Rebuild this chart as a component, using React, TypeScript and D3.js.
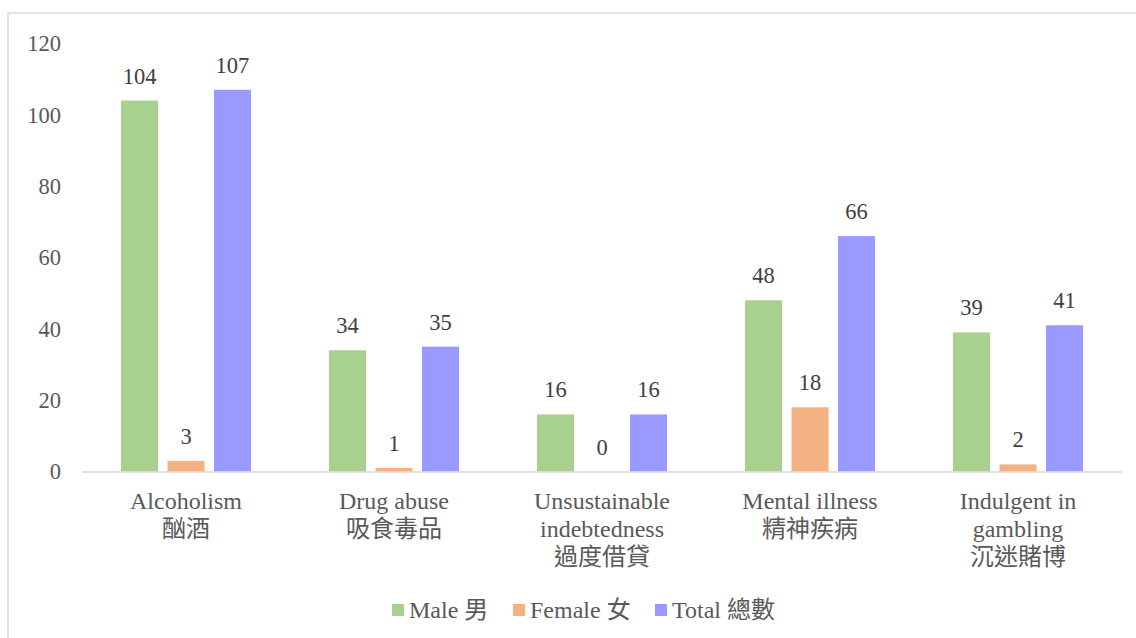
import React from "react";
import * as d3 from "d3";

const categories: string[][] = [
  ["Alcoholism", "酗酒"],
  ["Drug abuse", "吸食毒品"],
  ["Unsustainable", "indebtedness", "過度借貸"],
  ["Mental illness", "精神疾病"],
  ["Indulgent in", "gambling", "沉迷賭博"],
];
const seriesNames = ["Male 男", "Female 女", "Total 總數"];
const maleValues = [104, 34, 16, 48, 39];
const femaleValues = [3, 1, 0, 18, 2];
const totalValues = [107, 35, 16, 66, 41];
const yTicks = [0, 20, 40, 60, 80, 100, 120];
const colors = ["#a9d18e", "#f4b183", "#9999ff"];

const W = 1136;
const H = 638;
const FONT = "'Liberation Serif', 'Times New Roman', 'Noto Sans CJK TC', serif";

export default function App() {
  const series = [maleValues, femaleValues, totalValues];
  const x0 = d3
    .scaleBand<number>()
    .domain(d3.range(categories.length))
    .range([82, 1122])
    .paddingInner(0)
    .paddingOuter(0);
  const step = x0.step();
  const groupW = 130;
  const x1 = d3
    .scaleBand<number>()
    .domain(d3.range(series.length))
    .range([(step - groupW) / 2, (step + groupW) / 2])
    .paddingInner(0.204)
    .paddingOuter(0);
  const y = d3.scaleLinear().domain([0, 120]).range([471.5, 43.5]);

  const legendX = [392, 513, 655];

  return (
    <svg
      width={W}
      height={H}
      style={{ position: "absolute", left: 0, top: 0, background: "#fff" }}
      fontFamily={FONT}
    >
      <rect x={8} y={13} width={1140} height={640} fill="#fff" stroke="#d9d9d9" strokeWidth={1.5} />
      {yTicks.map((t) => (
        <text
          key={t}
          x={61}
          y={y(t)}
          dy="0.35em"
          textAnchor="end"
          fontSize={22.5}
          fill="#595959"
        >
          {t}
        </text>
      ))}
      {categories.map((cat, i) => (
        <g key={i} transform={`translate(${x0(i)},0)`}>
          {series.map((vals, s) => {
            const v = vals[i];
            const bx = x1(s)!;
            const bw = x1.bandwidth();
            return (
              <g key={s}>
                <rect x={bx} y={y(v)} width={bw} height={y(0) - y(v)} fill={colors[s]} />
                <text
                  x={bx + bw / 2}
                  y={y(v) - 17}
                  textAnchor="middle"
                  fontSize={22.5}
                  fill="#404040"
                >
                  {v}
                </text>
              </g>
            );
          })}
          {cat.map((line, li) => (
            <text
              key={li}
              x={step / 2}
              y={501 + li * 28}
              dy="0.35em"
              textAnchor="middle"
              fontSize={24}
              fill="#595959"
            >
              {line}
            </text>
          ))}
        </g>
      ))}
      <line x1={82} x2={1122} y1={y(0) + 0.5} y2={y(0) + 0.5} stroke="#d9d9d9" strokeWidth={1.5} />
      {seriesNames.map((name, s) => (
        <g key={name} transform={`translate(${legendX[s]},0)`}>
          <rect x={0} y={604} width={12} height={12} fill={colors[s]} />
          <text x={17} y={610} dy="0.35em" fontSize={24} fill="#595959">
            {name}
          </text>
        </g>
      ))}
    </svg>
  );
}
